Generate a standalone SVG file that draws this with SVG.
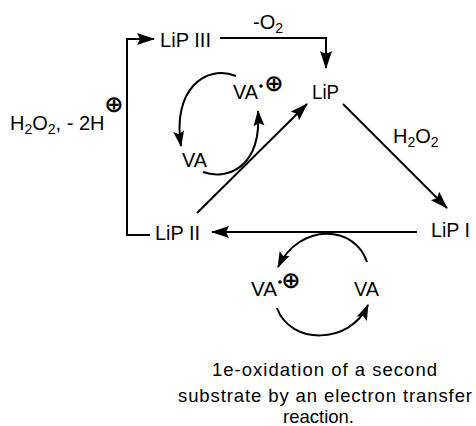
<svg xmlns="http://www.w3.org/2000/svg" width="476" height="426" viewBox="0 0 476 426">
<defs>
<style>
text{font-family:"Liberation Sans",Arial,sans-serif;fill:#000}
.n{font-size:20px}
.sub{font-size:14px}
.cap{font-size:18.5px}
.ox{font-family:"DejaVu Sans",sans-serif;font-size:23px;font-weight:bold}
.ln{fill:none;stroke:#000;stroke-width:2}
</style>
<marker id="ah" markerUnits="userSpaceOnUse" markerWidth="18" markerHeight="12" refX="17" refY="6" orient="auto">
<path d="M0,0 L18,6 L0,12 L3,6 Z" fill="#000"/>
</marker>
<marker id="ahs" markerUnits="userSpaceOnUse" markerWidth="16" markerHeight="12" refX="15" refY="6" orient="auto">
<path d="M0,0.5 L16,6 L0,11.5 L3,6 Z" fill="#000"/>
</marker>
</defs>
<rect width="476" height="426" fill="#fff"/>

<g id="connectors">
<path class="ln" d="M150,235 L127,235 L127,39 L154,39" marker-end="url(#ah)"/>
<path class="ln" d="M220,38 L326,38 L326,68" marker-end="url(#ah)"/>
<path class="ln" d="M197,213 L307,104" marker-end="url(#ah)"/>
<path class="ln" d="M343,104 L447,208" marker-end="url(#ah)"/>
<path class="ln" d="M417,232 L212,232" marker-end="url(#ah)"/>
<path class="ln" d="M236,76 C205,64 172,90 181,146" marker-end="url(#ahs)"/>
<path class="ln" d="M203,172 C225,180 262,170 258,111" marker-end="url(#ahs)"/>
<path class="ln" d="M367,262 C355,225 300,222 278,267" marker-end="url(#ahs)"/>
<path class="ln" d="M277,308 C290,345 350,345 368,305" marker-end="url(#ahs)"/>
</g>

<g id="labels">
<text x="253" y="29" class="n">-O<tspan class="sub" dy="4">2</tspan></text>
<text x="393" y="143" class="n">H<tspan class="sub" dy="4">2</tspan><tspan dy="-4">O</tspan><tspan class="sub" dy="4">2</tspan></text>
<text x="10" y="130" class="n">H<tspan class="sub" dy="4">2</tspan><tspan dy="-4">O</tspan><tspan class="sub" dy="4">2</tspan><tspan dy="-4">, - 2H</tspan></text>
<text x="114" y="104" class="ox" text-anchor="middle" dominant-baseline="central">⊕</text>
</g>

<g id="lip3"><text x="160" y="47" class="n" textLength="51" lengthAdjust="spacingAndGlyphs">LiP III</text></g>
<g id="lip"><text x="312" y="99" class="n" textLength="27" lengthAdjust="spacingAndGlyphs">LiP</text></g>
<g id="lip1"><text x="431" y="237" class="n" textLength="39" lengthAdjust="spacingAndGlyphs">LiP I</text></g>
<g id="lip2"><text x="155" y="240" class="n" textLength="45" lengthAdjust="spacingAndGlyphs">LiP II</text></g>

<g id="va-radical-top">
<text x="233" y="99" class="n" textLength="25" lengthAdjust="spacingAndGlyphs">VA</text>
<circle cx="261" cy="86" r="1.8" fill="#000"/>
<text x="274" y="83" class="ox" text-anchor="middle" dominant-baseline="central">⊕</text>
</g>
<g id="va-top"><text x="182" y="167" class="n" textLength="25" lengthAdjust="spacingAndGlyphs">VA</text></g>

<g id="va-radical-bottom">
<text x="251" y="296" class="n" textLength="26" lengthAdjust="spacingAndGlyphs">VA</text>
<circle cx="280" cy="282" r="1.8" fill="#000"/>
<text x="291" y="280" class="ox" text-anchor="middle" dominant-baseline="central">⊕</text>
</g>
<g id="va-bottom"><text x="354" y="296" class="n" textLength="25" lengthAdjust="spacingAndGlyphs">VA</text></g>

<g id="caption">
<text x="212" y="376" class="cap" textLength="225" lengthAdjust="spacing">1e-oxidation of a second</text>
<text x="178" y="402" class="cap" textLength="294" lengthAdjust="spacing">substrate by an electron transfer</text>
<text x="283" y="423" class="cap" textLength="71" lengthAdjust="spacing">reaction.</text>
</g>
</svg>
